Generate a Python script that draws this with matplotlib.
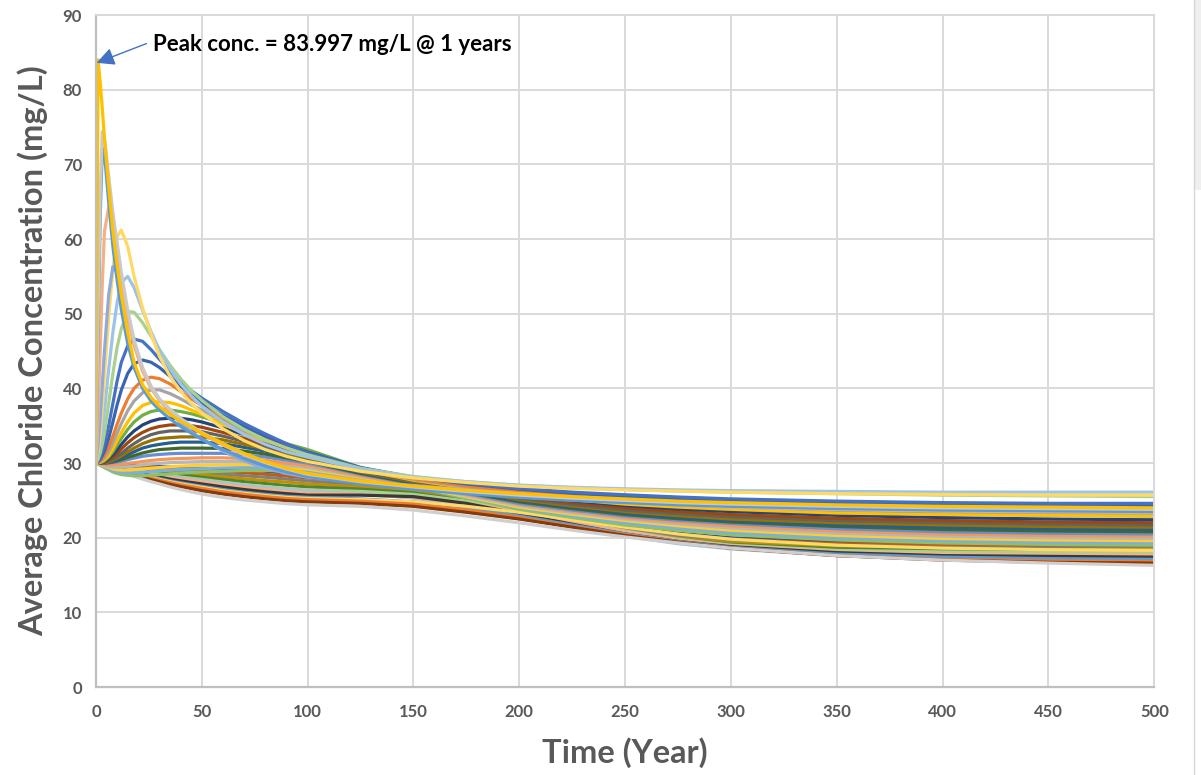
import matplotlib.pyplot as plt
from matplotlib.lines import Line2D
from matplotlib.patches import Rectangle

plt.rcParams['font.family'] = ['Lato', 'DejaVu Sans']

# time steps (years), first century and the rest
years_early = [0, 1, 2, 3, 4, 6, 8, 10, 12, 15, 18, 22, 26, 30, 35, 40, 45, 50, 60, 70, 80, 90, 100]
years_late = [125, 150, 175, 200, 225, 250, 275, 300, 350, 400, 450, 500]

# runs with a clear peak (earliest peak first) - concentration in mg/L
peaked_early = [
    [30, 84, 81, 77.5, 73.5, 67, 61, 56.5, 52.5, 47.5, 43.5, 40.5, 38.8, 37.6, 36.5, 35.6, 34.8, 34.0, 32.6, 31.3, 30.2, 29.3, 28.6],
    [30, 50, 66, 74.4, 73.5, 68.5, 63.5, 59.5, 55.5, 50.5, 46.5, 42.8, 40.3, 38.6, 37.2, 36.0, 35.0, 34.1, 32.6, 31.2, 30.1, 29.2, 28.5],
    [30, 47, 63, 72.2, 71.5, 65, 59, 54.5, 50.5, 46, 42.8, 40, 38.3, 37.1, 35.9, 34.9, 34.0, 33.2, 31.8, 30.6, 29.6, 28.8, 28.2],
    [30, 36, 45, 54, 61, 64.2, 61.5, 57.5, 54, 49.5, 45.8, 42.3, 40, 38.4, 37, 35.8, 34.8, 33.9, 32.4, 31.1, 30.0, 29.2, 28.5],
    [30, 32.5, 36, 40.5, 45, 52.5, 56.3, 55.5, 53.5, 49.5, 46, 42.5, 40.2, 38.5, 36.8, 35.4, 34.2, 33.2, 31.6, 30.3, 29.3, 28.6, 28.1],
    [30, 31.5, 34, 37.5, 41.5, 49.5, 56, 60.3, 61.2, 59, 55, 50.8, 47.3, 44.3, 41.6, 39.6, 38.0, 36.7, 34.6, 33.0, 31.8, 30.9, 30.2],
    [30, 31, 32.5, 34.5, 37, 42.5, 47.5, 51.5, 54.2, 55, 53.5, 50.5, 47.6, 45.1, 42.6, 40.6, 39.0, 37.6, 35.5, 33.8, 32.5, 31.5, 30.8],
    [30, 30.5, 31.3, 32.5, 34, 38, 42, 45.5, 48, 50.3, 50.2, 48.8, 47, 45.2, 43.1, 41.3, 39.7, 38.4, 36.2, 34.5, 33.1, 32.0, 31.1],
    [30, 30.3, 30.8, 31.5, 32.5, 35, 38, 41, 43.5, 45.7, 46.6, 46.3, 45.2, 43.9, 42.3, 40.9, 39.7, 38.7, 36.9, 35.3, 33.9, 32.6, 31.3],
    [30, 30.2, 30.5, 31, 31.6, 33.3, 35.5, 37.8, 39.8, 42.0, 43.3, 43.8, 43.5, 42.8, 41.6, 40.3, 39.1, 38.1, 36.4, 34.9, 33.6, 32.5, 31.5],
    [30, 30.1, 30.3, 30.6, 31, 32.1, 33.6, 35.2, 36.7, 38.6, 40.0, 41.1, 41.5, 41.3, 40.6, 39.6, 38.6, 37.7, 36.0, 34.6, 33.4, 32.4, 31.5],
    [30, 30.05, 30.2, 30.4, 30.7, 31.5, 32.7, 34.0, 35.3, 37.0, 38.3, 39.4, 39.8, 39.8, 39.3, 38.6, 37.8, 37.1, 35.6, 34.3, 33.2, 32.2, 31.4],
    [30, 30, 30.1, 30.25, 30.45, 31.0, 31.9, 33.0, 34.1, 35.5, 36.7, 37.7, 38.1, 38.2, 38.1, 37.7, 37.1, 36.5, 35.2, 34.0, 33.0, 32.1, 31.3],
    [30, 30, 30.05, 30.15, 30.3, 30.8, 31.5, 32.4, 33.3, 34.5, 35.5, 36.4, 36.9, 37.1, 37.1, 36.9, 36.6, 36.2, 35.3, 34.4, 33.5, 32.6, 31.8],
    [30, 30, 30, 30.1, 30.2, 30.6, 31.1, 31.8, 32.5, 33.5, 34.3, 35.1, 35.6, 35.9, 36.0, 36.0, 35.8, 35.5, 34.7, 33.8, 32.9, 32.1, 31.4],
    [30, 30, 30, 30.05, 30.1, 30.4, 30.8, 31.3, 31.9, 32.7, 33.4, 34.1, 34.6, 34.9, 35.1, 35.1, 35.0, 34.8, 34.1, 33.3, 32.5, 31.8, 31.1],
    [30, 30, 30, 30, 30.05, 30.25, 30.55, 30.9, 31.3, 32.0, 32.6, 33.3, 33.8, 34.1, 34.3, 34.3, 34.3, 34.2, 33.6, 32.9, 32.2, 31.5, 30.9],
    [30, 30, 30, 30, 30, 30.15, 30.4, 30.65, 30.95, 31.5, 32.0, 32.6, 33.0, 33.3, 33.4, 33.5, 33.5, 33.5, 33.1, 32.5, 31.9, 31.3, 30.7],
    [30, 30, 30, 30, 30, 30.1, 30.25, 30.45, 30.7, 31.1, 31.5, 32.0, 32.3, 32.5, 32.7, 32.8, 32.8, 32.8, 32.6, 32.1, 31.6, 31.0, 30.5],
    [30, 30, 30, 30, 30, 30.05, 30.15, 30.3, 30.45, 30.75, 31.0, 31.35, 31.6, 31.8, 31.9, 32.0, 32.0, 32.0, 31.95, 31.6, 31.2, 30.7, 30.2],
    [30, 30, 30, 30, 30, 30, 30.05, 30.15, 30.25, 30.45, 30.65, 30.9, 31.05, 31.15, 31.25, 31.3, 31.3, 31.3, 31.3, 31.1, 30.8, 30.4, 30.0],
    [30, 29.95, 29.9, 29.85, 29.8, 29.75, 29.75, 29.8, 29.85, 29.95, 30.05, 30.2, 30.35, 30.45, 30.55, 30.6, 30.65, 30.7, 30.7, 30.6, 30.35, 30.0, 29.7],
    [30, 29.95, 29.85, 29.75, 29.65, 29.5, 29.4, 29.4, 29.45, 29.5, 29.6, 29.75, 29.85, 29.95, 30.05, 30.1, 30.15, 30.2, 30.2, 30.2, 30.0, 29.7, 29.4],
    [30, 29.9, 29.8, 29.7, 29.6, 29.4, 29.2, 29.1, 29.05, 29.05, 29.1, 29.2, 29.3, 29.4, 29.5, 29.6, 29.65, 29.7, 29.75, 29.8, 29.7, 29.45, 29.2],
    [30, 29.9, 29.75, 29.6, 29.5, 29.25, 29.0, 28.85, 28.75, 28.7, 28.7, 28.75, 28.85, 28.95, 29.05, 29.15, 29.2, 29.25, 29.35, 29.4, 29.4, 29.25, 29.0],
    [30, 29.85, 29.7, 29.55, 29.4, 29.1, 28.8, 28.6, 28.45, 28.35, 28.3, 28.3, 28.35, 28.45, 28.55, 28.65, 28.75, 28.8, 28.9, 29.0, 29.0, 28.95, 28.8],
]
peaked_late = [
    [27.6, 26.9, 26.35, 25.9, 25.5, 25.2, 24.9, 24.7, 24.4, 24.2, 24.1, 24.0],
    [27.5, 26.8, 26.2, 25.7, 25.3, 25.0, 24.7, 24.5, 24.2, 24.0, 23.9, 23.8],
    [27.2, 26.5, 25.9, 25.4, 25.0, 24.7, 24.4, 24.2, 23.9, 23.7, 23.6, 23.5],
    [27.5, 26.7, 26.05, 25.5, 25.05, 24.7, 24.4, 24.1, 23.8, 23.6, 23.5, 23.4],
    [27.5, 27.0, 26.4, 25.9, 25.4, 25.0, 24.7, 24.4, 24.0, 23.8, 23.6, 23.5],
    [28.9, 28.0, 27.4, 26.9, 26.6, 26.4, 26.25, 26.1, 25.9, 25.8, 25.7, 25.7],
    [29.2, 28.1, 27.5, 27.05, 26.75, 26.55, 26.4, 26.3, 26.2, 26.1, 26.1, 26.1],
    [29.3, 28.2, 27.5, 27.0, 26.7, 26.45, 26.25, 26.1, 25.9, 25.7, 25.6, 25.5],
    [29.3, 28.1, 27.3, 26.6, 26.1, 25.75, 25.45, 25.2, 24.9, 24.7, 24.6, 24.6],
    [29.4, 28.1, 27.2, 26.5, 25.95, 25.5, 25.2, 24.9, 24.6, 24.4, 24.3, 24.3],
    [29.3, 27.9, 26.95, 26.2, 25.6, 25.1, 24.7, 24.4, 24.0, 23.8, 23.7, 23.6],
    [29.2, 27.8, 26.8, 26.0, 25.35, 24.8, 24.4, 24.1, 23.7, 23.5, 23.4, 23.3],
    [29.1, 27.7, 26.65, 25.8, 25.1, 24.5, 24.1, 23.8, 23.3, 23.1, 23.0, 22.9],
    [29.4, 27.9, 26.9, 26.1, 25.4, 24.8, 24.35, 24.0, 23.5, 23.2, 23.0, 22.9],
    [29.2, 27.8, 26.7, 25.7, 24.95, 24.3, 23.85, 23.5, 23.0, 22.7, 22.5, 22.4],
    [29.1, 27.7, 26.6, 25.5, 24.7, 24.0, 23.5, 23.1, 22.6, 22.3, 22.1, 22.0],
    [28.9, 27.6, 26.45, 25.3, 24.45, 23.7, 23.2, 22.8, 22.3, 22.0, 21.8, 21.7],
    [28.8, 27.5, 26.3, 25.1, 24.25, 23.5, 22.95, 22.5, 22.0, 21.7, 21.5, 21.4],
    [28.7, 27.4, 26.2, 25.0, 24.1, 23.3, 22.75, 22.3, 21.7, 21.4, 21.2, 21.1],
    [28.6, 27.3, 26.05, 24.8, 23.9, 23.1, 22.55, 22.1, 21.5, 21.1, 20.9, 20.8],
    [28.5, 27.2, 25.9, 24.6, 23.7, 22.9, 22.35, 21.9, 21.2, 20.8, 20.6, 20.5],
    [28.3, 27.1, 25.8, 24.5, 23.55, 22.7, 22.1, 21.6, 20.9, 20.5, 20.3, 20.2],
    [28.2, 27.0, 25.65, 24.3, 23.35, 22.5, 21.85, 21.3, 20.6, 20.2, 20.0, 19.9],
    [28.1, 26.9, 25.5, 24.1, 23.15, 22.3, 21.6, 21.0, 20.3, 19.9, 19.7, 19.6],
    [28.0, 26.9, 25.45, 24.0, 22.95, 22.0, 21.3, 20.7, 20.0, 19.6, 19.4, 19.3],
    [27.9, 26.8, 25.3, 23.8, 22.7, 21.7, 21.0, 20.4, 19.7, 19.3, 19.1, 19.0],
]
peaked_colors = ['#FFC000', '#C9C9C9', '#5B9BD5', '#F4B183', '#8FAADC', '#FFD966', '#9DC3E6', '#A9D18E',
                 '#4472C4', '#3A64B0', '#ED7D31', '#A5A5A5', '#FFC000', '#70AD47', '#264478', '#9E480E',
                 '#636363', '#997300', '#255E91', '#43682B', '#698ED0', '#F1975A', '#B7B7B7', '#FFCD33',
                 '#7CAFDD', '#8CC168']

# runs that only decline from the start value
declining_early = [
    [30, 29.98, 29.97, 29.95, 29.93, 29.9, 29.86, 29.83, 29.8, 29.75, 29.7, 29.64, 29.58, 29.53, 29.46, 29.4, 29.35, 29.3, 29.2, 29.1, 28.9, 28.65, 28.4],
    [30, 29.98, 29.95, 29.93, 29.9, 29.86, 29.81, 29.76, 29.71, 29.64, 29.57, 29.48, 29.4, 29.33, 29.23, 29.15, 29.07, 29.0, 28.85, 28.7, 28.5, 28.25, 28.0],
    [30, 29.97, 29.94, 29.91, 29.88, 29.81, 29.75, 29.69, 29.62, 29.53, 29.44, 29.33, 29.22, 29.12, 29.0, 28.89, 28.79, 28.7, 28.5, 28.3, 28.1, 27.85, 27.6],
    [30, 29.96, 29.92, 29.88, 29.85, 29.77, 29.69, 29.61, 29.54, 29.42, 29.31, 29.17, 29.04, 28.92, 28.77, 28.63, 28.52, 28.4, 28.15, 27.9, 27.65, 27.45, 27.2],
    [30, 29.95, 29.91, 29.86, 29.82, 29.72, 29.63, 29.54, 29.45, 29.31, 29.18, 29.02, 28.86, 28.72, 28.54, 28.38, 28.24, 28.1, 27.8, 27.5, 27.25, 27.0, 26.8],
    [30, 29.95, 29.89, 29.84, 29.79, 29.68, 29.58, 29.47, 29.36, 29.21, 29.05, 28.86, 28.68, 28.52, 28.3, 28.12, 27.96, 27.8, 27.45, 27.1, 26.85, 26.6, 26.4],
    [30, 29.94, 29.89, 29.83, 29.77, 29.66, 29.55, 29.43, 29.32, 29.15, 28.98, 28.78, 28.59, 28.41, 28.19, 27.99, 27.82, 27.65, 27.3, 26.95, 26.65, 26.4, 26.2],
    [30, 29.94, 29.88, 29.82, 29.76, 29.64, 29.52, 29.4, 29.28, 29.1, 28.92, 28.71, 28.5, 28.31, 28.07, 27.86, 27.68, 27.5, 27.1, 26.75, 26.45, 26.2, 26.0],
    [30, 29.93, 29.87, 29.8, 29.73, 29.59, 29.46, 29.33, 29.19, 28.99, 28.78, 28.55, 28.31, 28.11, 27.84, 27.61, 27.4, 27.2, 26.8, 26.45, 26.15, 25.9, 25.7],
    [30, 29.93, 29.85, 29.78, 29.7, 29.55, 29.4, 29.25, 29.1, 28.88, 28.65, 28.39, 28.13, 27.91, 27.61, 27.35, 27.12, 26.9, 26.45, 26.1, 25.8, 25.55, 25.4],
    [30, 29.92, 29.84, 29.77, 29.69, 29.53, 29.37, 29.22, 29.06, 28.83, 28.59, 28.32, 28.04, 27.81, 27.49, 27.22, 26.98, 26.75, 26.3, 25.95, 25.65, 25.4, 25.25],
    [30, 29.92, 29.84, 29.76, 29.67, 29.51, 29.34, 29.18, 29.02, 28.77, 28.52, 28.24, 27.95, 27.71, 27.38, 27.09, 26.84, 26.6, 26.15, 25.8, 25.5, 25.25, 25.1],
    [30, 29.91, 29.82, 29.73, 29.64, 29.46, 29.29, 29.11, 28.93, 28.66, 28.39, 28.08, 27.77, 27.5, 27.15, 26.84, 26.57, 26.3, 25.85, 25.5, 25.2, 24.95, 24.8],
    [30, 29.9, 29.8, 29.7, 29.6, 29.4, 29.2, 29.0, 28.8, 28.5, 28.2, 27.85, 27.5, 27.2, 26.8, 26.45, 26.15, 25.85, 25.4, 25.05, 24.8, 24.55, 24.4],
]
declining_late = [
    [27.8, 26.9, 25.3, 23.8, 22.5, 21.4, 20.6, 20.0, 19.4, 19.2, 19.1, 19.0],
    [27.5, 26.7, 25.2, 23.6, 22.3, 21.2, 20.4, 19.8, 19.2, 19.0, 18.85, 18.8],
    [27.1, 26.4, 25.0, 23.4, 22.1, 21.0, 20.2, 19.6, 19.0, 18.7, 18.6, 18.6],
    [26.8, 26.2, 24.9, 23.3, 21.9, 20.8, 19.9, 19.3, 18.7, 18.5, 18.4, 18.4],
    [26.5, 26.0, 24.9, 23.4, 22.0, 20.8, 19.8, 19.1, 18.5, 18.3, 18.2, 18.2],
    [26.2, 25.8, 24.9, 23.6, 22.2, 20.9, 19.8, 19.0, 18.3, 18.1, 18.0, 18.0],
    [25.9, 25.3, 24.2, 22.8, 21.4, 20.2, 19.2, 18.5, 17.6, 17.2, 17.0, 16.9],
    [25.8, 25.4, 24.6, 23.4, 22.1, 20.8, 19.7, 18.9, 18.1, 17.8, 17.7, 17.7],
    [25.7, 25.5, 24.6, 23.2, 21.8, 20.5, 19.5, 18.8, 18.0, 17.6, 17.5, 17.4],
    [25.2, 24.8, 24.0, 22.9, 21.7, 20.5, 19.5, 18.7, 17.8, 17.4, 17.2, 17.1],
    [25.1, 24.8, 24.2, 23.4, 22.4, 21.4, 20.5, 19.8, 19.0, 18.6, 18.4, 18.3],
    [24.9, 24.5, 23.7, 22.7, 21.5, 20.4, 19.4, 18.6, 17.6, 17.1, 16.9, 16.8],
    [24.6, 24.2, 23.4, 22.5, 21.4, 20.3, 19.4, 18.6, 17.6, 17.0, 16.7, 16.6],
    [24.2, 23.7, 22.9, 22.0, 21.0, 20.1, 19.3, 18.6, 17.6, 17.0, 16.6, 16.3],
]
declining_colors = ['#2F5597', '#C55A11', '#7F7F7F', '#BF9000', '#548235', '#A9D18E', '#9DC3E6',
                    '#F4B183', '#3B3838', '#5B9BD5', '#FFD966', '#ED7D31', '#843C0C', '#D0CECE']

years = years_early + years_late

fig = plt.figure(figsize=(12.01, 7.75), dpi=100)
ax = fig.add_axes([0.0799, 0.1135, 0.8812, 0.8671])

for head, tail, col in zip(declining_early, declining_late, declining_colors):
    ax.plot(years, head + tail, color=col, lw=2.3, solid_joinstyle='round')
runs = list(zip(peaked_early, peaked_late, peaked_colors))
for head, tail, col in reversed(runs):
    ax.plot(years, head + tail, color=col, lw=2.3, solid_joinstyle='round')

ax.set_xlim(0, 500)
ax.set_ylim(0, 90)
ax.set_xticks(range(0, 501, 50))
ax.set_yticks(range(0, 91, 10))
ax.grid(color='#D9D9D9', lw=1.4)
ax.set_axisbelow(True)
for side in ['top', 'right']:
    ax.spines[side].set_color('#D9D9D9')
    ax.spines[side].set_linewidth(1.4)
for side in ['left', 'bottom']:
    ax.spines[side].set_color('#BFBFBF')
    ax.spines[side].set_linewidth(1.6)
ax.tick_params(length=0, labelsize=12, labelcolor='#595959')
ax.tick_params(axis='x', pad=12)
ax.tick_params(axis='y', pad=10)
for lab in ax.get_xticklabels() + ax.get_yticklabels():
    lab.set_fontweight('bold')

ax.set_ylabel('Average Chloride Concentration (mg/L)', fontsize=23.5, fontweight='bold',
              color='#595959', va='center')
ax.yaxis.set_label_coords(-0.0595, 0.5)
ax.set_xlabel('Time (Year)', fontsize=23.5, fontweight='bold', color='#595959', va='center')
ax.xaxis.set_label_coords(0.5, -0.097)

ax.annotate('Peak conc. = 83.997 mg/L @ 1 years', xy=(0.3, 83.6), xytext=(27, 86.1),
            fontsize=16, fontweight='bold', color='black', va='center', ha='left',
            arrowprops=dict(arrowstyle='-|>,head_length=0.9,head_width=0.45', color='#4472C4',
                            lw=1, mutation_scale=12, shrinkA=3, shrinkB=0, relpos=(0, 0.65)))

# window edge seen at the right of the screenshot
fig.add_artist(Line2D([1193.5 / 1201] * 2, [0, 1], color='#D6D6D6', lw=1))
fig.add_artist(Rectangle((1194.5 / 1201, 1 - 190 / 775), 7 / 1201, 190 / 775, color='#EFEFEF', lw=0))

fig.savefig('out.png', dpi=100)
